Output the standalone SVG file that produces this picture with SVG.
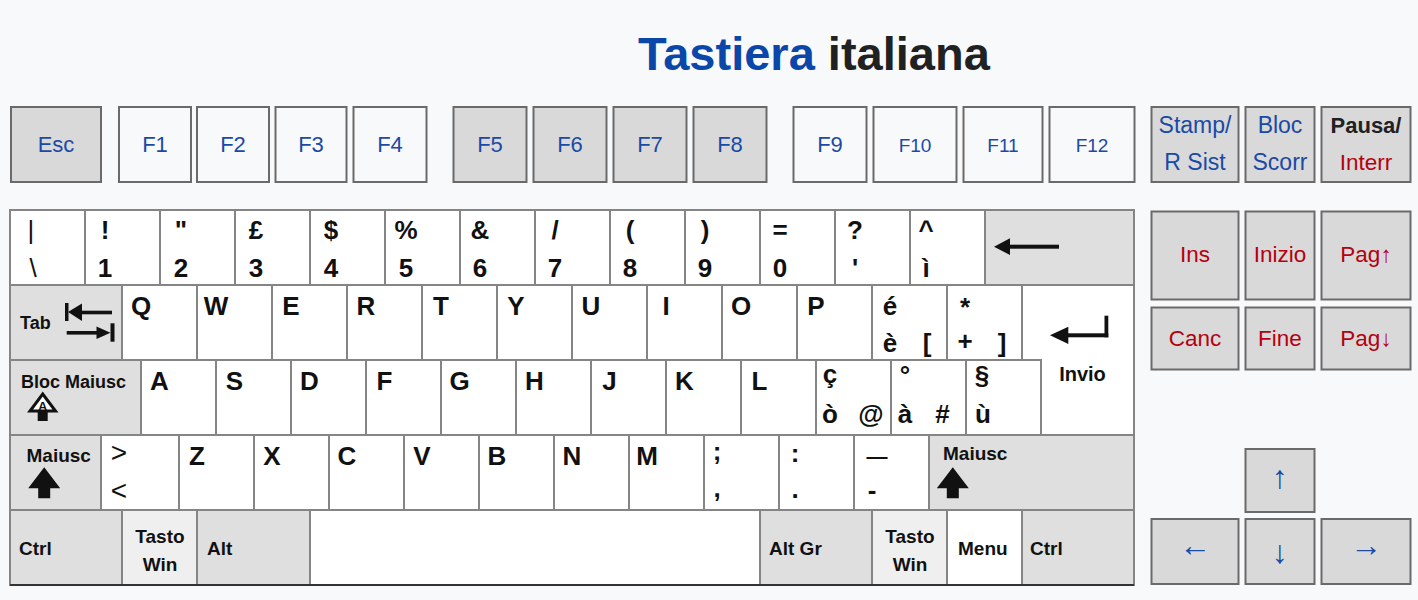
<svg xmlns="http://www.w3.org/2000/svg" width="1418" height="600" viewBox="0 0 1418 600">
<style>
text{font-family:"Liberation Sans",Arial,sans-serif}
.fk{stroke:#6a6a6a;stroke-width:2}
.g{fill:#d9d9d9}
.w{fill:#f8f9fa}
.kw{fill:#fff;stroke:#858585;stroke-width:2}
.kg{fill:#dfdfdf;stroke:#858585;stroke-width:2}
.kl{fill:#efefef;stroke:#858585;stroke-width:2}
.b{fill:#1a4aa6;font-size:22px;text-anchor:middle}
.bs{font-size:19px}
.b2{font-size:23px}
.r{fill:#b5000f;font-size:22.5px;text-anchor:middle}
.ar{fill:#1a4aa6;font-size:32px;text-anchor:middle}
.c{font-weight:bold;font-size:26px;fill:#111;text-anchor:middle}
.m{font-weight:bold;font-size:19px;fill:#111}
.mc{text-anchor:middle}
.blk{fill:#111}
</style>
<defs>
<path id="shift" d="M0,0 L16,21 H6 V31 H-6 V21 H-16 Z"/>
</defs>
<rect x="0" y="0" width="1418" height="600" fill="#f8f9fa"/>
<text x="638" y="70" font-size="47" font-weight="bold"><tspan fill="#0b47a8">Tastiera</tspan><tspan fill="#202122"> italiana</tspan></text>

<g id="fkeys">
<g id="k-esc"><rect class="fk g" x="11" y="107" width="90" height="75"/><text class="b" x="56" y="152">Esc</text></g>
<g id="k-f1"><rect class="fk w" x="119" y="107" width="72" height="75"/><text class="b" x="155" y="152">F1</text></g>
<g id="k-f2"><rect class="fk w" x="197" y="107" width="72" height="75"/><text class="b" x="233" y="152">F2</text></g>
<g id="k-f3"><rect class="fk w" x="275.5" y="107" width="71" height="75"/><text class="b" x="311" y="152">F3</text></g>
<g id="k-f4"><rect class="fk w" x="353.5" y="107" width="73" height="75"/><text class="b" x="390" y="152">F4</text></g>
<g id="k-f5"><rect class="fk g" x="453.5" y="107" width="73" height="75"/><text class="b" x="490" y="152">F5</text></g>
<g id="k-f6"><rect class="fk g" x="533.5" y="107" width="73" height="75"/><text class="b" x="570" y="152">F6</text></g>
<g id="k-f7"><rect class="fk g" x="613.5" y="107" width="73" height="75"/><text class="b" x="650" y="152">F7</text></g>
<g id="k-f8"><rect class="fk g" x="693.5" y="107" width="73" height="75"/><text class="b" x="730" y="152">F8</text></g>
<g id="k-f9"><rect class="fk w" x="793.5" y="107" width="73" height="75"/><text class="b" x="830" y="152">F9</text></g>
<g id="k-f10"><rect class="fk w" x="873.5" y="107" width="83" height="75"/><text class="b bs" x="915" y="152">F10</text></g>
<g id="k-f11"><rect class="fk w" x="963.5" y="107" width="79" height="75"/><text class="b bs" x="1003" y="152">F11</text></g>
<g id="k-f12"><rect class="fk w" x="1049.5" y="107" width="85" height="75"/><text class="b bs" x="1092" y="152">F12</text></g>
<g id="k-stamp"><rect class="fk g" x="1151.5" y="107" width="87" height="75"/><text class="b b2" x="1195" y="133">Stamp/</text><text class="b b2" x="1195" y="170">R Sist</text></g>
<g id="k-bloc"><rect class="fk g" x="1245.5" y="107" width="69" height="75"/><text class="b b2" x="1280" y="133">Bloc</text><text class="b b2" x="1280" y="170">Scorr</text></g>
<g id="k-pausa"><rect class="fk g" x="1321.5" y="107" width="89" height="75"/><text class="b" x="1366" y="133" style="fill:#202122;font-weight:bold">Pausa/</text><text class="r" x="1366" y="170">Interr</text></g>
</g>

<g id="navkeys">
<g id="k-ins"><rect class="fk g" x="1151.5" y="211.5" width="87" height="88"/><text class="r" x="1195" y="262">Ins</text></g>
<g id="k-inizio"><rect class="fk g" x="1245.5" y="211.5" width="69" height="88"/><text class="r" x="1280" y="262">Inizio</text></g>
<g id="k-pagup"><rect class="fk g" x="1321.5" y="211.5" width="89" height="88"/><text class="r" x="1366" y="262">Pag↑</text></g>
<g id="k-canc"><rect class="fk g" x="1151.5" y="307.5" width="87" height="62"/><text class="r" x="1195" y="346">Canc</text></g>
<g id="k-fine"><rect class="fk g" x="1245.5" y="307.5" width="69" height="62"/><text class="r" x="1280" y="346">Fine</text></g>
<g id="k-pagdn"><rect class="fk g" x="1321.5" y="307.5" width="89" height="62"/><text class="r" x="1366" y="346">Pag↓</text></g>
<g id="k-up"><rect class="fk g" x="1245.5" y="449" width="69" height="63"/><text class="ar" x="1280" y="488">↑</text></g>
<g id="k-left"><rect class="fk g" x="1151.5" y="519" width="87" height="65"/><text class="ar" x="1195" y="556">←</text></g>
<g id="k-down"><rect class="fk g" x="1245.5" y="519" width="69" height="65"/><text class="ar" x="1280" y="563">↓</text></g>
<g id="k-right"><rect class="fk g" x="1321.5" y="519" width="89" height="65"/><text class="ar" x="1366" y="556">→</text></g>
</g>

<g id="row1">
<g id="k-bsl"><rect class="kw" x="10" y="210" width="75" height="75"/><text class="c" x="31" y="239" style="font-weight:normal">|</text><text class="c" x="33" y="277" style="font-weight:normal">\</text></g>
<g id="k-1"><rect class="kw" x="85" y="210" width="75" height="75"/><text class="c" x="105" y="239">!</text><text class="c" x="105" y="277">1</text></g>
<g id="k-2"><rect class="kw" x="160" y="210" width="75" height="75"/><text class="c" x="181" y="239">"</text><text class="c" x="181" y="277">2</text></g>
<g id="k-3"><rect class="kw" x="235" y="210" width="75" height="75"/><text class="c" x="256" y="239">£</text><text class="c" x="256" y="277">3</text></g>
<g id="k-4"><rect class="kw" x="310" y="210" width="75" height="75"/><text class="c" x="331" y="239">$</text><text class="c" x="331" y="277">4</text></g>
<g id="k-5"><rect class="kw" x="385" y="210" width="75" height="75"/><text class="c" x="406" y="239">%</text><text class="c" x="406" y="277">5</text></g>
<g id="k-6"><rect class="kw" x="460" y="210" width="75" height="75"/><text class="c" x="480" y="239">&amp;</text><text class="c" x="480" y="277">6</text></g>
<g id="k-7"><rect class="kw" x="535" y="210" width="75" height="75"/><text class="c" x="555" y="239">/</text><text class="c" x="555" y="277">7</text></g>
<g id="k-8"><rect class="kw" x="610" y="210" width="75" height="75"/><text class="c" x="630" y="239">(</text><text class="c" x="630" y="277">8</text></g>
<g id="k-9"><rect class="kw" x="685" y="210" width="75" height="75"/><text class="c" x="705" y="239">)</text><text class="c" x="705" y="277">9</text></g>
<g id="k-0"><rect class="kw" x="760" y="210" width="75" height="75"/><text class="c" x="780" y="239">=</text><text class="c" x="780" y="277">0</text></g>
<g id="k-apos"><rect class="kw" x="835" y="210" width="75" height="75"/><text class="c" x="855" y="239">?</text><text class="c" x="855" y="277">'</text></g>
<g id="k-igrave"><rect class="kw" x="910" y="210" width="75" height="75"/><text class="c" x="926" y="239">^</text><text class="c" x="926" y="277">ì</text></g>
<g id="k-back"><rect class="kg" x="985" y="210" width="149" height="75"/><polygon class="blk" points="994,246.7 1010,238.3 1010,255"/><rect class="blk" x="1008" y="244.7" width="51" height="4"/></g>
</g>

<g id="row2">
<g id="k-tab"><rect class="kg" x="10" y="285" width="112" height="75"/><text class="m" x="20" y="329" style="font-size:18px">Tab</text>
<rect class="blk" x="65" y="303" width="3.5" height="18"/><polygon class="blk" points="68,312 82,303.5 82,321"/><rect class="blk" x="80" y="310.7" width="32" height="3.6"/>
<rect class="blk" x="66.7" y="331" width="32" height="3.6"/><polygon class="blk" points="110.5,332.8 96.5,326.5 96.5,339"/><rect class="blk" x="110.5" y="323.3" width="4" height="18.4"/></g>
<g id="k-q"><rect class="kw" x="122" y="285" width="75" height="75"/><text class="c" x="141" y="315">Q</text></g>
<g id="k-w"><rect class="kw" x="197" y="285" width="75" height="75"/><text class="c" x="216" y="315">W</text></g>
<g id="k-e"><rect class="kw" x="272" y="285" width="75" height="75"/><text class="c" x="291" y="315">E</text></g>
<g id="k-r"><rect class="kw" x="347" y="285" width="75" height="75"/><text class="c" x="366" y="315">R</text></g>
<g id="k-t"><rect class="kw" x="422" y="285" width="75" height="75"/><text class="c" x="441" y="315">T</text></g>
<g id="k-y"><rect class="kw" x="497" y="285" width="75" height="75"/><text class="c" x="516" y="315">Y</text></g>
<g id="k-u"><rect class="kw" x="572" y="285" width="75" height="75"/><text class="c" x="591" y="315">U</text></g>
<g id="k-i"><rect class="kw" x="647" y="285" width="75" height="75"/><text class="c" x="666" y="315">I</text></g>
<g id="k-o"><rect class="kw" x="722" y="285" width="75" height="75"/><text class="c" x="741" y="315">O</text></g>
<g id="k-p"><rect class="kw" x="797" y="285" width="75" height="75"/><text class="c" x="816" y="315">P</text></g>
<g id="k-egrave"><rect class="kw" x="872" y="285" width="75" height="75"/><text class="c" x="890" y="315">é</text><text class="c" x="890" y="352">è</text><text class="c" x="927" y="352">[</text></g>
<g id="k-plus"><rect class="kw" x="947" y="285" width="75" height="75"/><text class="c" x="965" y="316">*</text><text class="c" x="965" y="350">+</text><text class="c" x="1002" y="352">]</text></g>
<g id="k-enter"><path class="kw" d="M1022,285H1134V435H1041V360H1022Z"/>
<polygon class="blk" points="1050,335.3 1068.3,326.7 1068.3,344"/><rect class="blk" x="1066" y="333.3" width="42.3" height="4"/><rect class="blk" x="1104.5" y="315.7" width="3.8" height="21.6"/>
<text class="m mc" x="1082.5" y="381" style="font-size:20px">Invio</text></g>
</g>

<g id="row3">
<g id="k-caps"><rect class="kg" x="10" y="360" width="131" height="75"/><text class="m" x="21" y="388" style="font-size:18px">Bloc Maiusc</text>
<polygon points="42.7,394 55.5,411 30,411" fill="#fff" stroke="#111" stroke-width="3" stroke-linejoin="miter"/><text x="42.7" y="410.5" font-size="13" font-weight="bold" text-anchor="middle" fill="#111">A</text><rect class="blk" x="37.7" y="411" width="10" height="10"/></g>
<g id="k-a"><rect class="kw" x="141" y="360" width="75" height="75"/><text class="c" x="159.5" y="390">A</text></g>
<g id="k-s"><rect class="kw" x="216" y="360" width="75" height="75"/><text class="c" x="234.5" y="390">S</text></g>
<g id="k-d"><rect class="kw" x="291" y="360" width="75" height="75"/><text class="c" x="309.5" y="390">D</text></g>
<g id="k-f"><rect class="kw" x="366" y="360" width="75" height="75"/><text class="c" x="384.5" y="390">F</text></g>
<g id="k-g"><rect class="kw" x="441" y="360" width="75" height="75"/><text class="c" x="459.5" y="390">G</text></g>
<g id="k-h"><rect class="kw" x="516" y="360" width="75" height="75"/><text class="c" x="534.5" y="390">H</text></g>
<g id="k-j"><rect class="kw" x="591" y="360" width="75" height="75"/><text class="c" x="609.5" y="390">J</text></g>
<g id="k-k"><rect class="kw" x="666" y="360" width="75" height="75"/><text class="c" x="684.5" y="390">K</text></g>
<g id="k-l"><rect class="kw" x="741" y="360" width="75" height="75"/><text class="c" x="759.5" y="390">L</text></g>
<g id="k-ograve"><rect class="kw" x="816" y="360" width="75" height="75"/><text class="c" x="830" y="383">ç</text><text class="c" x="830" y="423">ò</text><text class="c" x="871" y="423">@</text></g>
<g id="k-agrave"><rect class="kw" x="891" y="360" width="75" height="75"/><text class="c" x="905" y="384">°</text><text class="c" x="905" y="423">à</text><text class="c" x="942.5" y="423">#</text></g>
<g id="k-ugrave"><rect class="kw" x="966" y="360" width="75" height="75"/><text class="c" x="982" y="384">§</text><text class="c" x="983" y="423">ù</text></g>
</g>

<g id="row4">
<g id="k-lshift"><rect class="kg" x="10" y="435" width="91" height="75"/><text class="m" x="26.5" y="462">Maiusc</text><use href="#shift" x="44.2" y="467.3" fill="#111"/></g>
<g id="k-lt"><rect class="kw" x="101" y="435" width="78" height="75"/><text class="c" x="119" y="462" style="font-weight:normal;font-size:28px">&gt;</text><text class="c" x="119" y="500" style="font-weight:normal;font-size:28px">&lt;</text></g>
<g id="k-z"><rect class="kw" x="179" y="435" width="75" height="75"/><text class="c" x="197" y="465">Z</text></g>
<g id="k-x"><rect class="kw" x="254" y="435" width="75" height="75"/><text class="c" x="272" y="465">X</text></g>
<g id="k-c"><rect class="kw" x="329" y="435" width="75" height="75"/><text class="c" x="347" y="465">C</text></g>
<g id="k-v"><rect class="kw" x="404" y="435" width="75" height="75"/><text class="c" x="422" y="465">V</text></g>
<g id="k-b"><rect class="kw" x="479" y="435" width="75" height="75"/><text class="c" x="497" y="465">B</text></g>
<g id="k-n"><rect class="kw" x="554" y="435" width="75" height="75"/><text class="c" x="572" y="465">N</text></g>
<g id="k-m"><rect class="kw" x="629" y="435" width="75" height="75"/><text class="c" x="647" y="465">M</text></g>
<g id="k-comma"><rect class="kw" x="704" y="435" width="75" height="75"/><text class="c" x="717" y="460">;</text><text class="c" x="717" y="497">,</text></g>
<g id="k-period"><rect class="kw" x="779" y="435" width="75" height="75"/><text class="c" x="795" y="462">:</text><text class="c" x="795" y="498">.</text></g>
<g id="k-minus"><rect class="kw" x="854" y="435" width="75" height="75"/><text class="c" x="877" y="463" style="font-size:21px">—</text><text class="c" x="872" y="499">-</text></g>
<g id="k-rshift"><rect class="kg" x="929" y="435" width="205" height="75"/><text class="m" x="943" y="460">Maiusc</text><use href="#shift" x="952.8" y="467.3" fill="#111"/></g>
</g>

<g id="row5">
<g id="k-lctrl"><rect class="kg" x="10" y="510" width="112" height="75"/><text class="m" x="19" y="555">Ctrl</text></g>
<g id="k-lwin"><rect class="kl" x="122" y="510" width="75" height="75"/><text class="m mc" x="160" y="543">Tasto</text><text class="m mc" x="160" y="571">Win</text></g>
<g id="k-alt"><rect class="kg" x="197" y="510" width="113" height="75"/><text class="m" x="207" y="555">Alt</text></g>
<g id="k-space"><rect class="kw" x="310" y="510" width="450" height="75"/></g>
<g id="k-altgr"><rect class="kg" x="760" y="510" width="112" height="75"/><text class="m" x="769" y="555">Alt Gr</text></g>
<g id="k-rwin"><rect class="kl" x="872" y="510" width="75" height="75"/><text class="m mc" x="910" y="543">Tasto</text><text class="m mc" x="910" y="571">Win</text></g>
<g id="k-menu"><rect class="kw" x="947" y="510" width="75" height="75"/><text class="m" x="958" y="555">Menu</text></g>
<g id="k-rctrl"><rect class="kg" x="1022" y="510" width="112" height="75"/><text class="m" x="1030" y="555">Ctrl</text></g>
<line x1="10" y1="585" x2="1134" y2="585" stroke="#333" stroke-width="2"/>
</g>
<g id="connectors"/>
</svg>
